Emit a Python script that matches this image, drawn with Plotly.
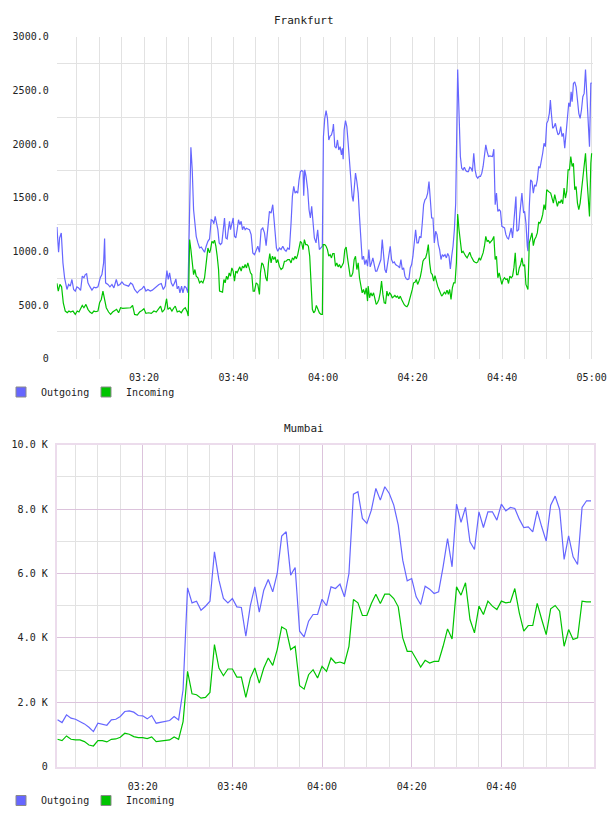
import plotly.graph_objects as go
import pandas as pd

# ---------------- DATA ----------------
# Frankfurt: (minutes after 03:00, value) pairs
fra_out = [
    (0.53,1227),(0.90,992),(1.13,1125),(1.50,1172),(1.87,893),(2.24,754),(2.77,645),(3.14,692),(3.51,676),(3.88,738),
    (4.26,645),(4.63,630),(5.00,670),(5.37,660),(5.82,636),(6.19,769),(6.56,754),(6.86,784),(7.16,791),(7.46,707),
    (7.83,676),(8.35,639),(8.80,667),(9.24,660),(9.69,670),(10.21,754),(10.58,784),(10.96,893),(11.18,1119),(11.40,707),
    (11.92,692),(12.37,670),(12.82,692),(13.26,660),(13.79,738),(14.16,682),(14.61,692),(15.05,716),(15.50,692),(16.02,682),
    (16.54,676),(16.99,707),(17.43,692),(17.88,645),(18.48,614),(19.00,639),(19.52,651),(19.97,676),(20.41,630),(20.86,645),
    (21.38,630),(21.83,639),(22.35,660),(22.87,676),(23.32,692),(23.84,701),(24.29,645),(24.73,676),(25.10,822),(25.40,738),
    (25.70,800),(26.07,707),(26.44,676),(26.82,707),(27.11,744),(27.41,651),(27.71,676),(28.01,614),(28.38,676),(28.68,614),
    (29.05,676),(29.42,660),(29.80,614),
    (30.46,1970),(30.76,1760),(31.06,1388),(31.36,1233),(31.65,1140),(32.03,1079),(32.40,1032),(32.77,1041),(33.14,1017),
    (33.51,992),(33.88,1048),(34.26,1094),(34.63,1116),(35.00,1295),(35.30,1289),(35.59,1258),(35.89,1326),(36.19,1270),
    (36.49,1202),(36.78,1079),(37.08,1063),(37.38,1079),(37.68,1172),(37.97,1311),(38.27,1125),(38.57,1116),(38.87,1218),
    (39.09,1280),(39.31,1202),(39.61,1270),(39.91,1311),(40.20,1140),(40.50,1125),(40.80,1202),(41.10,1295),(41.39,1249),
    (41.69,1280),(41.99,1202),(42.29,1233),(42.58,1202),(42.88,1215),(43.18,1209),(43.55,1202),(43.92,1156),(44.29,986),
    (44.67,970),(45.04,1017),(45.41,1048),(45.78,992),(46.15,1202),(46.52,1218),(46.90,1172),(47.27,1054),(47.64,1202),
    (48.01,1373),(48.38,1357),(48.75,1435),(48.98,1326),(49.28,1172),(49.57,1032),(49.87,1001),(50.24,1032),(50.61,1017),
    (50.99,1048),(51.36,1017),(51.73,1001),(52.10,1032),(52.47,1017),(52.84,1264),(53.14,1512),(53.44,1605),(53.74,1543),
    (54.03,1558),(54.33,1543),(54.63,1667),(54.93,1744),(55.22,1753),(55.52,1744),(55.67,1518),(55.89,1760),(56.19,1698),
    (56.56,1574),(56.86,1388),(57.16,1311),(57.45,1419),(57.75,1233),(58.05,1125),(58.42,1079),(58.79,1202),(59.16,1017),
    (59.54,1032),(59.83,1048),
    (60.07,2069),(60.37,2240),(60.67,2311),(60.97,2240),(61.27,2038),(61.57,2075),(61.87,2085),(62.16,2131),(62.31,2187),
    (62.61,1976),(62.91,1961),(63.21,2038),(63.51,1945),(63.81,1976),(64.10,1899),(64.33,1961),(64.48,1859),(64.70,2131),
    (65.00,2218),(65.30,2162),(65.60,2007),(65.90,1822),(66.19,1605),(66.49,1512),(66.72,1466),(66.94,1605),(67.24,1729),
    (67.54,1651),(67.84,1543),(68.13,1326),(68.43,1079),(68.73,924),(69.03,955),(69.33,877),(69.63,924),(69.93,862),
    (70.22,1017),(70.52,856),(70.82,893),(71.12,939),(71.42,877),(71.72,816),(72.01,816),(72.31,846),(72.61,877),(72.91,924),
    (73.21,1110),(73.51,955),(73.81,831),(74.10,800),(74.40,893),(74.70,939),(75.00,1048),(75.30,924),(75.60,893),(75.90,902),
    (76.19,877),(76.49,868),(76.79,862),(77.09,846),(77.39,924),(77.69,831),(77.99,846),(78.28,769),(78.58,744),(78.88,738),
    (79.18,744),(79.48,846),(79.78,877),(80.07,955),(80.37,1079),(80.67,1202),(80.97,1079),(81.27,1079),(81.57,1140),
    (81.87,1125),(82.16,1264),(82.46,1435),(82.76,1481),(83.06,1497),(83.36,1543),(83.66,1651),(83.96,1481),(84.25,1311),
    (84.55,1311),(84.85,1079),(85.15,1187),(85.45,1156),(85.75,1063),(86.04,1017),(86.34,924),(86.64,970),(86.94,955),
    (87.24,970),(87.54,939),(87.84,980),(88.13,955),(88.43,837),(88.73,955),(89.03,1048),(89.33,1202),(89.63,1450),
    (90.07,2695),(90.37,2224),(90.67,1884),(90.97,1775),(91.27,1760),(91.57,1784),(91.87,1753),(92.17,1744),(92.47,1744),
    (92.77,1784),(93.06,1775),(93.36,1744),(93.66,1914),(93.96,1760),(94.26,1698),(94.56,1682),(94.86,1698),(95.16,1698),
    (95.46,1729),(95.75,1791),(96.05,1914),(96.35,1992),(96.65,1930),(96.95,1884),(97.25,1890),(97.55,1884),(97.85,1884),
    (98.15,1952),(98.30,1760),(98.45,1435),(98.74,1543),(99.04,1373),(99.34,1388),(99.64,1373),(99.94,1233),(100.24,1227),
    (100.54,1218),(100.84,1156),(101.14,1125),(101.43,1116),(101.73,1156),(102.03,1218),(102.33,1125),(102.63,1264),
    (102.93,1373),(103.08,1512),(103.30,1187),(103.68,1202),(103.98,1357),(104.28,1450),(104.42,1543),(104.57,1466),
    (104.80,1357),(105.02,1373),(105.32,1264),(105.62,1048),(105.77,1001),(106.07,1419),(106.37,1667),(106.67,1651),
    (106.97,1543),(107.26,1620),(107.56,1605),(107.86,1667),(108.16,1791),(108.46,1775),(108.76,1837),(109.06,1914),
    (109.36,2007),(109.66,1976),(109.96,2193),(110.25,2218),(110.55,2286),(110.78,2410),(111.00,2286),(111.30,2147),
    (111.60,2162),(111.90,2193),(112.20,2131),(112.50,2085),(112.80,2100),(113.09,2162),(113.39,2069),(113.69,2100),
    (113.99,1961),(114.29,2131),(114.59,2255),(114.89,2385),(115.19,2348),(115.41,2487),(115.64,2394),(115.93,2565),
    (116.23,2580),(116.53,2534),(116.83,2410),(117.13,2286),(117.43,2240),(117.73,2317),(118.03,2441),(118.33,2472),
    (118.63,2695),(118.92,2441),(119.22,2162),(119.52,1976),(119.82,2565),(120.00,2571),
]

fra_in = [
    (0.53,701),(0.83,630),(1.20,692),(1.57,670),(1.95,521),(2.39,444),(2.84,428),(3.21,444),(3.59,435),(4.11,444),
    (4.63,413),(5.07,444),(5.45,435),(5.82,460),(6.19,497),(6.56,475),(7.01,506),(7.46,460),(7.90,435),(8.35,422),
    (8.80,444),(9.24,438),(9.69,444),(10.06,521),(10.44,552),(10.81,630),(11.18,537),(11.55,475),(12.07,435),(12.52,413),
    (12.97,435),(13.41,444),(13.86,460),(14.31,428),(14.75,475),(15.20,469),(15.79,472),(16.39,472),(16.99,475),(17.43,497),
    (17.88,413),(18.48,407),(19.00,435),(19.52,450),(19.97,466),(20.41,422),(21.01,428),(21.61,422),(22.20,444),(22.72,435),
    (23.24,460),(23.69,490),(24.06,435),(24.58,460),(25.03,559),(25.33,460),(25.77,475),(26.22,444),(26.67,475),(26.97,490),
    (27.41,435),(27.86,444),(28.31,428),(28.75,460),(29.20,475),(29.65,435),(29.87,397),
    (30.17,1110),(30.46,1017),(30.76,893),(31.06,784),(31.36,831),(31.65,769),(32.03,754),(32.40,707),(32.77,723),(33.14,707),
    (33.51,754),(33.88,893),(34.26,1032),(34.63,986),(34.85,1017),(35.15,1094),(35.45,1079),(35.74,1104),(36.04,1048),
    (36.34,955),(36.64,831),(36.86,630),(37.23,620),(37.53,620),(37.83,738),(38.12,707),(38.42,769),(38.72,738),(39.01,800),
    (39.31,769),(39.61,846),(39.91,816),(40.20,723),(40.50,816),(40.80,800),(41.10,831),(41.39,856),(41.69,816),(41.99,862),
    (42.29,846),(42.58,877),(42.88,846),(43.18,893),(43.48,846),(43.77,800),(44.07,784),(44.37,630),(44.67,630),(45.04,707),
    (45.41,692),(45.78,599),(46.00,800),(46.30,893),(46.60,877),(46.90,831),(47.19,754),(47.49,723),(47.79,893),(48.09,980),
    (48.38,893),(48.68,955),(48.98,924),(49.28,949),(49.57,893),(49.87,924),(50.24,860),(50.61,831),(50.99,846),(51.36,908),
    (51.73,908),(52.10,924),(52.47,924),(52.84,893),(53.14,939),(53.44,924),(53.74,955),(54.03,930),(54.33,970),(54.63,1048),
    (54.93,1094),(55.22,1079),(55.52,1017),(55.82,1110),(56.12,1063),(56.41,1063),(56.71,1048),(57.01,955),(57.30,707),
    (57.60,460),(57.90,428),(58.20,444),(58.49,497),(58.79,460),(59.16,428),(59.54,413),(59.83,413),
    (60.00,1063),(60.37,1063),(60.67,1048),(60.97,1017),(61.27,955),(61.57,970),(61.87,939),(62.16,980),(62.46,980),
    (62.76,862),(63.06,893),(63.36,856),(63.66,877),(63.96,846),(64.25,868),(64.55,893),(64.85,1017),(65.15,1041),(65.45,939),
    (65.75,831),(66.04,769),(66.34,769),(66.64,800),(66.94,924),(67.24,955),(67.54,831),(67.84,893),(68.13,754),(68.43,676),
    (68.73,614),(69.03,645),(69.33,599),(69.63,660),(69.93,537),(70.07,676),(70.37,568),(70.67,614),(70.97,583),(71.27,614),
    (71.57,552),(71.87,506),(72.16,521),(72.46,552),(72.76,614),(73.06,723),(73.36,599),(73.66,521),(73.96,515),(74.25,630),
    (74.55,583),(74.85,614),(75.15,599),(75.45,568),(75.75,577),(76.04,589),(76.34,574),(76.64,583),(76.94,559),(77.24,583),
    (77.54,552),(77.84,521),(78.13,503),(78.43,490),(78.73,484),(79.03,506),(79.33,546),(79.63,583),(79.93,645),(80.22,707),
    (80.52,713),(80.82,738),(81.12,692),(81.42,723),(81.72,763),(82.01,825),(82.31,908),(82.61,930),(82.91,939),(83.21,986),
    (83.51,1063),(83.81,893),(84.10,800),(84.40,784),(84.70,723),(85.00,775),(85.30,707),(85.60,676),(85.90,645),(86.19,614),
    (86.49,583),(86.79,599),(87.09,620),(87.39,605),(87.69,639),(87.99,599),(88.28,645),(88.58,552),(88.88,660),(89.18,707),
    (89.48,707),(89.78,893),
    (90.07,1348),(90.37,1202),(90.67,1079),(90.97,986),(91.27,1001),(91.57,970),(91.87,955),(92.17,939),(92.47,970),
    (92.77,992),(93.06,955),(93.36,924),(93.66,908),(93.96,899),(94.26,893),(94.56,902),(94.86,939),(95.16,918),(95.46,955),
    (95.75,986),(96.05,1048),(96.35,1140),(96.65,1094),(96.95,1100),(97.25,1079),(97.55,1094),(97.85,1110),(98.15,1140),
    (98.45,924),(98.74,955),(99.04,754),(99.34,800),(99.64,754),(99.94,692),(100.24,738),(100.54,754),(100.84,738),
    (101.14,744),(101.43,701),(101.73,769),(102.03,754),(102.33,769),(102.63,846),(102.93,986),(103.23,784),(103.53,784),
    (103.83,846),(104.13,877),(104.42,939),(104.72,862),(105.02,877),(105.32,692),(105.62,660),(105.77,645),(106.07,1079),
    (106.37,1140),(106.67,1172),(106.97,1054),(107.26,1110),(107.56,1134),(107.86,1172),(108.16,1270),(108.46,1264),
    (108.76,1295),(109.06,1342),(109.36,1435),(109.66,1388),(109.96,1574),(110.25,1558),(110.55,1552),(110.85,1543),
    (111.15,1497),(111.45,1450),(111.75,1528),(112.05,1481),(112.35,1419),(112.65,1466),(112.94,1450),(113.24,1481),
    (113.54,1444),(113.84,1589),(114.14,1497),(114.44,1558),(114.74,1760),(115.04,1760),(115.34,1884),(115.64,1791),
    (115.93,1822),(116.23,1574),(116.53,1605),(116.83,1450),(117.13,1388),(117.43,1450),(117.73,1558),(118.03,1698),
    (118.33,1791),(118.63,1914),(118.92,1698),(119.22,1450),(119.52,1326),(119.82,1822),(120.00,1914),
]

# Mumbai: one sample per minute, minutes after 03:00
mum_minutes = list(range(1, 121))
mum_out = [
    1455,1371,1610,1507,1475,1403,1330,1226,1091,1351,
    1320,1288,1455,1475,1559,1714,1735,1694,1590,1579,
    1486,1590,1351,1371,1392,1434,1559,1455,2390,5555,
    5089,5141,4861,4985,5141,6674,5793,5224,5089,5224,
    4965,4944,4052,5000,5586,4800,5483,5814,5431,6001,
    7161,7296,5949,6187,4208,4031,4520,4727,4727,5200,
    5000,5586,5534,5669,5275,6001,8466,8539,7710,7555,
    7969,8642,8280,8694,8487,8124,7503,6415,5773,5845,
    5275,5037,5607,5514,5379,5431,6208,7088,6208,8155,
    7586,8052,6985,6747,7917,7430,7917,7917,7658,8155,
    7948,8052,8021,7689,7430,7451,7296,7948,7451,7006,
    8124,8404,7990,6436,7171,6519,6280,8052,8259,8259,
]
mum_in = [
    852,810,956,852,831,831,779,675,644,810,
    810,769,852,862,914,1039,1008,935,904,904,
    873,925,779,790,810,831,925,852,1403,2961,
    2265,2234,2130,2151,2307,3792,3065,2826,3034,3034,
    2785,2785,2151,2753,3065,2598,3065,3377,3148,3637,
    4343,4260,3637,3740,2514,2410,2857,3013,2753,3117,
    2961,3377,3221,3252,3200,3740,5192,5089,4696,4696,
    5068,5358,5068,5358,5358,5224,4965,4000,3585,3585,
    3346,3096,3304,3221,3273,3273,3740,4281,3969,5586,
    5328,5711,4572,4156,4987,4727,5143,4987,4883,5143,
    5091,5112,5534,4779,4208,4385,4385,5070,4572,4104,
    4904,5008,4831,3740,4260,3948,4000,5143,5122,5122,
]

fra_yticks = [0, 500, 1000, 1500, 2000, 2500, 3000]
fra_ylabels = ["0", "500.0", "1000.0", "1500.0", "2000.0", "2500.0", "3000.0"]
mum_yticks = [0, 2000, 4000, 6000, 8000, 10000]
mum_ylabels = ["0", "2.0 K", "4.0 K", "6.0 K", "8.0 K", "10.0 K"]
fra_xlabels = ["03:20", "03:40", "04:00", "04:20", "04:40", "05:00"]
mum_xlabels = ["03:20", "03:40", "04:00", "04:20", "04:40"]
series_names = ["Outgoing", "Incoming"]

# ---------------- HELPERS ----------------
DAY = "2024-01-01"
BASE = pd.Timestamp(DAY + " 03:00:00")


def to_time(mins):
    return [BASE + pd.Timedelta(minutes=float(m)) for m in mins]


def hm(lbls):
    return [pd.Timestamp(DAY + " " + s + ":00") for s in lbls]


BLUE = "#6666ff"
GREEN = "#00c400"
COLORS = [BLUE, GREEN]
FONT = "DejaVu Sans Mono"

fig = go.Figure()

fo_t, fo_v = zip(*fra_out)
fi_t, fi_v = zip(*fra_in)

fig.add_trace(go.Scatter(x=to_time(fo_t), y=list(fo_v), mode="lines",
                         line=dict(color=BLUE, width=1.2), showlegend=False,
                         xaxis="x", yaxis="y"))
fig.add_trace(go.Scatter(x=to_time(fi_t), y=list(fi_v), mode="lines",
                         line=dict(color=GREEN, width=1.2), showlegend=False,
                         xaxis="x", yaxis="y"))
fig.add_trace(go.Scatter(x=to_time(mum_minutes), y=mum_out, mode="lines",
                         line=dict(color=BLUE, width=1.2), showlegend=False,
                         xaxis="x2", yaxis="y2"))
fig.add_trace(go.Scatter(x=to_time(mum_minutes), y=mum_in, mode="lines",
                         line=dict(color=GREEN, width=1.2), showlegend=False,
                         xaxis="x2", yaxis="y2"))

# legend entries (square swatches), one legend box per entry
legend_ids = [("legend", "legend3", "x", "y"), ("legend2", "legend4", "x2", "y2")]
for lg_a, lg_b, xa, ya in legend_ids:
    for name, col, lg in zip(series_names, COLORS, (lg_a, lg_b)):
        fig.add_trace(go.Scatter(
            x=[None], y=[None], mode="markers", name=name, legend=lg,
            marker=dict(symbol="square", size=10, color=col,
                        line=dict(color="#8a8a8a", width=1)),
            xaxis=xa, yaxis=ya))

tickfont = dict(family=FONT, size=10, color="#222")
GRID = "#e2e2e2"
MAJOR = "#dcc3dc"
BORDER = "#ecdcec"

minor_fra = [BASE + pd.Timedelta(minutes=m) for m in range(5, 121, 5) if m % 20]
minor_mum = [BASE + pd.Timedelta(minutes=m) for m in range(5, 120, 5) if m % 20]

legend_common = dict(orientation="h", xanchor="left", yanchor="middle",
                     font=dict(family=FONT, size=10, color="#222"),
                     bgcolor="rgba(0,0,0,0)", itemwidth=30)

LX1 = 1 / 608
LX2 = 86 / 608
LY_TOP = (816 - 392) / 816
LY_BOT = (816 - 800.5) / 816

fig.update_layout(
    width=608, height=816,
    margin=dict(l=0, r=0, t=0, b=0, autoexpand=False),
    paper_bgcolor="white", plot_bgcolor="white",
    font=dict(family=FONT, size=10, color="#222"),
    xaxis=dict(
        domain=[0.0933, 0.9753], anchor="y", automargin=False,
        type="date",
        range=[DAY + " 03:00:29", DAY + " 05:00:18"],
        tickmode="array", tickvals=hm(fra_xlabels), ticktext=fra_xlabels,
        ticks="outside", ticklen=9, tickcolor="rgba(0,0,0,0)",
        tickfont=tickfont,
        showgrid=True, gridcolor=GRID, gridwidth=1,
        minor=dict(tickmode="array", tickvals=minor_fra, showgrid=True,
                   gridcolor=GRID, gridwidth=1, ticks=""),
        showline=False, zeroline=False, fixedrange=True,
    ),
    yaxis=dict(
        domain=[0.5604, 0.9550], anchor="x", automargin=False,
        range=[0, 3000],
        tickmode="array", tickvals=fra_yticks, ticktext=fra_ylabels,
        ticks="outside", ticklen=5, tickcolor="rgba(0,0,0,0)",
        tickfont=tickfont,
        showgrid=False,
        minor=dict(tickmode="array", tickvals=[250, 750, 1250, 1750, 2250, 2750],
                   showgrid=True, gridcolor=GRID, gridwidth=1, ticks=""),
        showline=False, zeroline=False,
    ),
    xaxis2=dict(
        domain=[0.0933, 0.9770], anchor="y2", automargin=False,
        type="date",
        range=[DAY + " 03:00:49", DAY + " 05:00:40"],
        tickmode="array", tickvals=hm(mum_xlabels), ticktext=mum_xlabels,
        ticks="outside", ticklen=9, tickcolor="rgba(0,0,0,0)",
        tickfont=tickfont,
        showgrid=True, gridcolor=MAJOR, gridwidth=1,
        minor=dict(tickmode="array", tickvals=minor_mum, showgrid=True,
                   gridcolor=GRID, gridwidth=1, ticks=""),
        showline=True, mirror=True, linecolor=BORDER, linewidth=2,
        zeroline=False,
    ),
    yaxis2=dict(
        domain=[0.0604, 0.4550], anchor="x2", automargin=False,
        range=[0, 10000],
        tickmode="array", tickvals=mum_yticks, ticktext=mum_ylabels,
        ticks="outside", ticklen=5, tickcolor="rgba(0,0,0,0)",
        tickfont=tickfont,
        showgrid=True, gridcolor=MAJOR, gridwidth=1,
        minor=dict(tickmode="array", tickvals=[1000, 3000, 5000, 7000, 9000],
                   showgrid=True, gridcolor=GRID, gridwidth=1, ticks=""),
        showline=True, mirror=True, linecolor=BORDER, linewidth=2,
        zeroline=False,
    ),
    legend=dict(x=LX1, y=LY_TOP, **legend_common),
    legend3=dict(x=LX2, y=LY_TOP, **legend_common),
    legend2=dict(x=LX1, y=LY_BOT, **legend_common),
    legend4=dict(x=LX2, y=LY_BOT, **legend_common),
    annotations=[
        dict(text="Frankfurt", x=0.5, y=(816 - 20) / 816, xref="paper", yref="paper",
             showarrow=False, xanchor="center", yanchor="middle",
             font=dict(family=FONT, size=11, color="#222")),
        dict(text="Mumbai", x=0.5, y=(816 - 428) / 816, xref="paper", yref="paper",
             showarrow=False, xanchor="center", yanchor="middle",
             font=dict(family=FONT, size=11, color="#222")),
    ],
)

fig.write_html("out.html")
